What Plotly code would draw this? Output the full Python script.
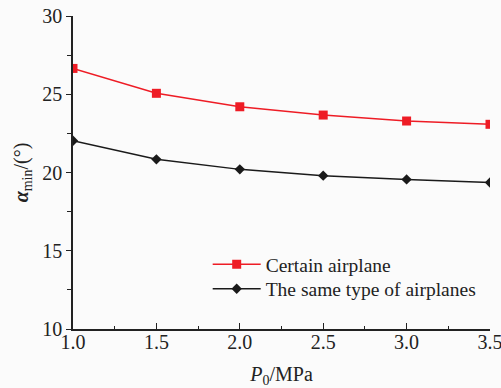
import plotly.graph_objects as go

pressure = [1.0, 1.5, 2.0, 2.5, 3.0, 3.5]
certain_airplane = [26.65, 25.06, 24.2, 23.67, 23.29, 23.08]
same_type = [22.03, 20.84, 20.2, 19.8, 19.56, 19.36]

fig = go.Figure()
fig.add_trace(go.Scatter(x=pressure, y=certain_airplane, mode="lines+markers",
                         name="Certain airplane", legend="legend",
                         line=dict(color="#ee1c25", width=1.5),
                         marker=dict(symbol="square", size=9, color="#ee1c25")))
fig.add_trace(go.Scatter(x=pressure, y=same_type, mode="lines+markers",
                         name="The same type of airplanes", legend="legend2",
                         line=dict(color="#1a1a1a", width=1.5),
                         marker=dict(symbol="diamond", size=8, color="#1a1a1a")))

font = "Liberation Serif, Times New Roman, serif"
leg = dict(xanchor="left", yanchor="top", bgcolor="rgba(0,0,0,0)",
           font=dict(size=19.5, family=font), itemwidth=48)
fig.update_layout(
    width=501, height=388,
    margin=dict(l=73, r=11, t=16, b=59, autoexpand=False),
    paper_bgcolor="#fbfbfb", plot_bgcolor="#fbfbfb",
    font=dict(family=font, size=20, color="#222"),
    showlegend=True,
    legend=dict(x=0.323, y=0.268, **leg),
    legend2=dict(x=0.323, y=0.19, **leg),
    xaxis=dict(range=[1.0, 3.5], dtick=0.5, tickformat=".1f",
               showline=True, linecolor="#222", linewidth=1.5,
               ticks="inside", ticklen=6, tickcolor="#222",
               minor=dict(ticks="inside", ticklen=3, dtick=0.25, tickcolor="#222"),
               showgrid=False, zeroline=False, automargin=False,
               ticklabeloverflow="allow", ticklabelstandoff=-6,
               title=dict(text="<i>P</i><sub>0</sub>/MPa", standoff=16, font=dict(size=20))),
    yaxis=dict(range=[10, 30], dtick=5,
               showline=True, linecolor="#222", linewidth=1.5,
               ticks="outside", ticklen=5, tickcolor="#222",
               minor=dict(ticks="outside", ticklen=4, dtick=2.5, tickcolor="#222"),
               showgrid=False, zeroline=False, automargin=False,
               ticklabeloverflow="allow",
               title=dict(text="<b><i>α</i></b><sub>min</sub>/(°)", standoff=8, font=dict(size=20))),
)
fig.write_html("out.html", config={"displayModeBar": False},
               post_script="document.body.style.margin='0';document.body.style.overflow='hidden';document.body.style.background='#fbfbfb';")
